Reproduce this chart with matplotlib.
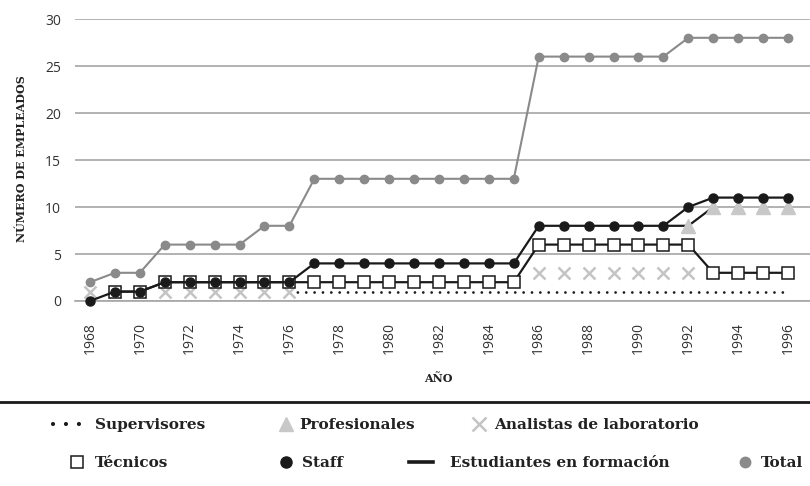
import matplotlib.pyplot as plt
import numpy as np
from matplotlib.lines import Line2D

nan = np.nan
years = list(range(1968, 1997))

# valores (1968..1996)
supervisores = [nan]*8 + [1]*21
profesionales = [nan]*24 + [8, 10, 10, 10, 10]
analistas = [1]*9 + [nan]*9 + [3]*7 + [nan]*4
tecnicos = [nan, 1, 1] + [2]*6 + [2]*9 + [6]*7 + [3]*4
staff = [0, 1, 1] + [2]*6 + [4]*9 + [8]*6 + [10] + [11]*4
estudiantes = [nan]*23 + [8, 8, 10] + [nan]*3
total = [2, 3, 3, 6, 6, 6, 6, 8, 8] + [13]*9 + [26]*6 + [28]*5

yticks = [0, 5, 10, 15, 20, 25, 30]
xticks = list(range(1968, 1997, 2))

serif = 'DejaVu Serif'
sans = 'Open Sans'
grey_total = '#8a8a8a'
grey_x = '#c4c4c4'
grey_tri = '#c8c8c8'
ink = '#1a1a1a'

fig = plt.figure(figsize=(8.1, 4.86), dpi=100)
ax = fig.add_axes([75/810, 1 - 301/486, 1 - 75/810, 282/486])

ax.plot(years, total, color=grey_total, lw=1.5, marker='o', ms=6, zorder=3, clip_on=False)
ax.plot(years, analistas, ls='none', marker='x', color=grey_x, ms=8, mew=1.8, zorder=3)
ax.plot(years, supervisores, color=ink, lw=2.0, ls=(0, (0.01, 3.0)), dash_capstyle='round', zorder=2)
ax.plot(years, estudiantes, color=ink, lw=1.6, zorder=4)
ax.plot(years, profesionales, ls='none', marker='^', color=grey_tri, ms=10, zorder=4)
ax.plot(years, tecnicos, color=ink, lw=1.6, marker='s', ms=8.5, mfc='white', mec=ink, mew=1.1, zorder=5)
ax.plot(years, staff, color=ink, lw=1.6, marker='o', ms=6.5, zorder=6, clip_on=False)

ax.set_xlim(1967.4, 1996.88)
ax.set_ylim(0, 30)
ax.set_yticks(yticks)
ax.set_xticks(xticks)
ax.set_xticklabels([str(x) for x in xticks], rotation=90, fontfamily=sans, fontsize=10, color='#333333')
ax.set_yticklabels([str(y) for y in yticks], fontfamily=sans, fontsize=10, color='#333333')
ax.tick_params(length=0)
ax.tick_params(axis='y', pad=10)
ax.tick_params(axis='x', pad=15)
ax.grid(axis='y', color='#a6a6a6', lw=1.2)
ax.set_axisbelow(True)
for s in ['top', 'right', 'left']:
    ax.spines[s].set_visible(False)
ax.spines['bottom'].set_color('#a6a6a6')
ax.spines['bottom'].set_linewidth(1.2)

fig.text(22/810, 1 - 159/486, 'NÚMERO DE EMPLEADOS', rotation=90, ha='center', va='center',
         fontfamily=serif, fontweight='bold', fontsize=8, color='#222222')
fig.text(438/810, 1 - 379/486, 'AÑO', ha='center', va='center',
         fontfamily=serif, fontweight='bold', fontsize=8, color='#222222')
fig.add_artist(Line2D([0, 1], [1 - 402/486, 1 - 402/486], color=ink, lw=2))

# leyenda: (muestra, texto, x, y, largo, separacion)
entries = [
    (Line2D([], [], color=ink, lw=3, ls=(0, (0.01, 3.1)), dash_capstyle='round'), 'Supervisores', 53, 425, 1.75, 1.0),
    (Line2D([], [], ls='none', marker='^', color=grey_tri, ms=10), 'Profesionales', 278, 425, 1.0, 0.42),
    (Line2D([], [], ls='none', marker='x', color=grey_x, ms=10, mew=1.8), 'Analistas de laboratorio', 471, 425, 1.0, 0.54),
    (Line2D([], [], ls='none', marker='s', ms=9, mfc='white', mec=ink, mew=1.1), 'Técnicos', 69, 463, 1.0, 0.67),
    (Line2D([], [], ls='none', marker='o', color=ink, ms=8), 'Staff', 278, 463, 1.0, 0.54),
    (Line2D([], [], color=ink, lw=2.6), 'Estudiantes en formación', 409, 463, 1.57, 1.1),
    (Line2D([], [], ls='none', marker='o', color=grey_total, ms=7.5), 'Total', 737, 463, 1.0, 0.54),
]
for h, lab, x, y, hl, tp in entries:
    fig.legend([h], [lab], loc='center left', bbox_to_anchor=(x/810, 1 - y/486),
               frameon=False, borderpad=0, borderaxespad=0, handlelength=hl,
               handletextpad=tp, prop={'family': serif, 'weight': 'bold', 'size': 11},
               labelcolor='#222222')

fig.savefig('out.png', dpi=100)
